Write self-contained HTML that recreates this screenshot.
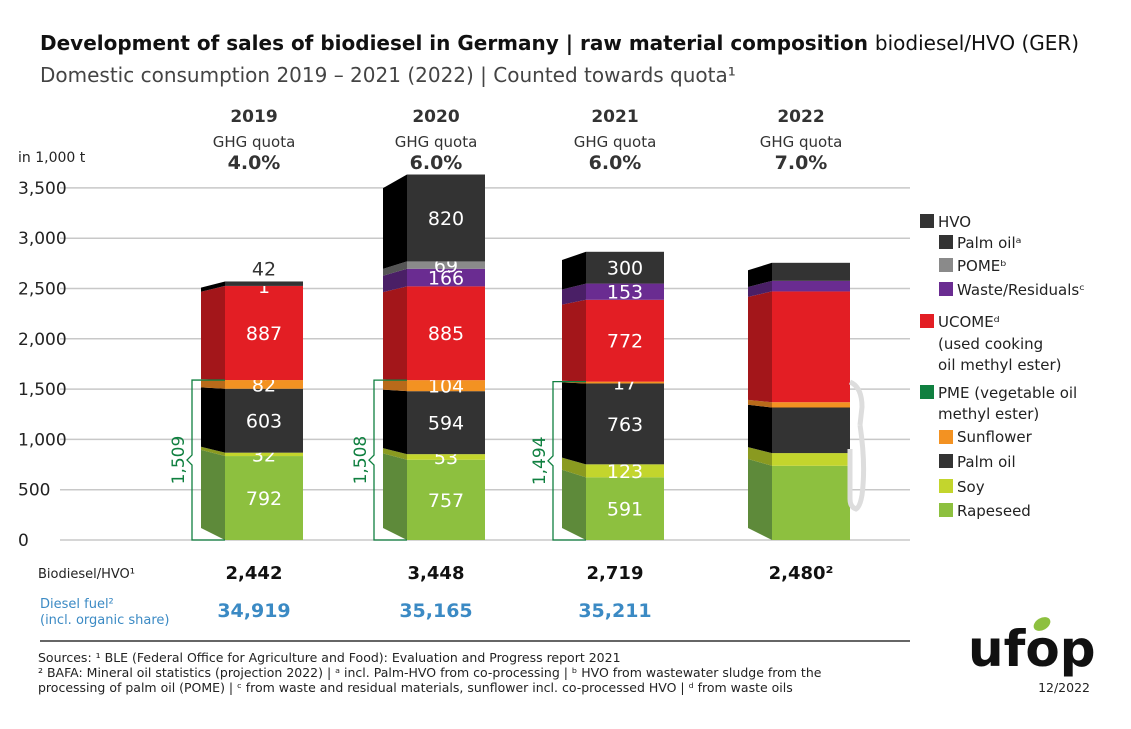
<!DOCTYPE html>
<html><head><meta charset="utf-8"><style>
body{margin:0;background:#fff;font-family:"Liberation Sans",sans-serif}
svg text{font-family:"DejaVu Sans","Liberation Sans",sans-serif}
</style></head><body>
<svg id="c" width="1131" height="724" viewBox="0 0 1131 724">
<text x="40" y="50" font-size="20" font-weight="bold" fill="#111">Development of sales of biodiesel in Germany | raw material composition <tspan font-weight="normal">biodiesel/HVO (GER)</tspan></text>
<text x="40" y="82" font-size="20" fill="#444">Domestic consumption 2019 – 2021 (2022) | Counted towards quota¹</text>
<text x="18" y="162" font-size="14" fill="#222">in 1,000 t</text>
<g id="grid"></g><g id="bars"></g>
<g font-size="15" fill="#222">
<rect x="920" y="214" width="14" height="14" fill="#333"/><text x="938" y="227">HVO</text>
<rect x="939" y="235" width="14" height="14" fill="#333"/><text x="957" y="248">Palm oilᵃ</text>
<rect x="939" y="258" width="14" height="14" fill="#8a8a8a"/><text x="957" y="271">POMEᵇ</text>
<rect x="939" y="282" width="14" height="14" fill="#6a2c91"/><text x="957" y="295">Waste/Residualsᶜ</text>
<rect x="920" y="314" width="14" height="14" fill="#e31e24"/><text x="938" y="327">UCOMEᵈ</text>
<text x="938" y="349">(used cooking</text><text x="938" y="370">oil methyl ester)</text>
<rect x="920" y="385" width="14" height="14" fill="#108040"/><text x="938" y="398">PME (vegetable oil</text>
<text x="938" y="419">methyl ester)</text>
<rect x="939" y="430" width="14" height="14" fill="#f39222"/><text x="957" y="442">Sunflower</text>
<rect x="939" y="454" width="14" height="14" fill="#333"/><text x="957" y="467">Palm oil</text>
<rect x="939" y="479" width="14" height="14" fill="#c3d52d"/><text x="957" y="492">Soy</text>
<rect x="939" y="503" width="14" height="14" fill="#8dc03f"/><text x="957" y="516">Rapeseed</text>
</g>
<text x="38" y="578" font-size="13" fill="#222">Biodiesel/HVO¹</text>
<text x="40" y="608" font-size="13" fill="#3b8ac4">Diesel fuel²</text>
<text x="40" y="624" font-size="13" fill="#3b8ac4">(incl. organic share)</text>
<line x1="40" y1="641" x2="910" y2="641" stroke="#333" stroke-width="1.5"/>
<g font-size="12.5" fill="#222">
<text x="38" y="662">Sources: ¹ BLE (Federal Office for Agriculture and Food): Evaluation and Progress report 2021</text>
<text x="38" y="677">² BAFA: Mineral oil statistics (projection 2022)  | ᵃ incl. Palm-HVO from co-processing | ᵇ HVO from wastewater sludge from the</text>
<text x="38" y="692">processing of palm oil (POME) | ᶜ from waste and residual materials, sunflower incl. co-processed HVO | ᵈ from waste oils</text>
</g>
<text x="1090" y="692" font-size="12.5" text-anchor="end" fill="#222">12/2022</text>
<g>
<text x="968" y="666" font-size="50" font-weight="bold" fill="#111" font-family="Liberation Sans">ufop</text>
<ellipse cx="1042" cy="624" rx="9" ry="6" fill="#8dc03f" transform="rotate(-30 1042 624)"/>
</g>
</svg>
<script>
const years=['2019','2020','2021','2022'];
const quotas=['4.0%','6.0%','6.0%','7.0%'];
const totals=['2,442','3,448','2,719','2,480²'];
const diesel=['34,919','35,165','35,211',''];
const pmeTotals=['1,509','1,508','1,494',''];
const rapeseed=[792,757,591,700];
const soy=[32,53,123,120];
const palmPME=[603,594,763,430];
const sunflower=[82,104,17,50];
const ucome=[887,885,772,1045];
const waste=[1,166,153,100];
const pome=[0,69,0,0];
const hvoPalm=[42,820,300,170];
const showLabels=[true,true,true,false];
const yTicks=[0,500,1000,1500,2000,2500,3000,3500];
const yTickLabels=['0','500','1,000','1,500','2,000','2,500','3,000','3,500'];

const NS='http://www.w3.org/2000/svg';
const y0=540,k=0.1006,kb=0.106;
const Y=v=>y0-v*k;
const YB=v=>y0-v*kb;
const xs=[225,407,586,772],bw=78,sw=24;
function mk(t,a,p){const e=document.createElementNS(NS,t);for(const n in a)e.setAttribute(n,a[n]);p.appendChild(e);return e;}
const grid=document.getElementById('grid'),bars=document.getElementById('bars');
yTicks.forEach((t,i)=>{
 const l=mk('line',{x1:60,x2:910,y1:Y(t),y2:Y(t),stroke:'#c8c8c8','stroke-width':1.5},grid);
 
 
 const tx=mk('text',{x:18,y:Y(t)+6,'font-size':17,fill:'#222'},grid);tx.textContent=yTickLabels[i];
 
 
});
const series=[
 {d:rapeseed,c:'#8dc03f',s:'#5e8a3a',n:'rapeseed'},
 {d:soy,c:'#c3d52d',s:'#8a9a20',n:'soy'},
 {d:palmPME,c:'#333',s:'#000',n:'palm-oil'},
 {d:sunflower,c:'#f39222',s:'#b86a1a',n:'sunflower'},
 {d:ucome,c:'#e31e24',s:'#a3161a',n:'ucome'},
 {d:waste,c:'#6a2c91',s:'#4a1f66',n:'waste-residuals'},
 {d:pome,c:'#8a8a8a',s:'#555',n:'pome'},
 {d:hvoPalm,c:'#333',s:'#000',n:'hvo-palm-oil'}];
const sideY=y=>528-(y0-y)*0.93;
years.forEach((yr,i)=>{
 const x=xs[i];
 const g=mk('g',{},bars);
 
 
 let cum=0;
 series.forEach((s,j)=>{
  const v=s.d[i];if(v<=0)return;
  const ya=YB(cum),yb=YB(cum+v);cum+=v;
  const side=mk('polygon',{points:`${x-sw},${sideY(ya)} ${x},${ya} ${x},${yb} ${x-sw},${sideY(yb)}`,fill:s.s},g);
  
  
  const r=mk('rect',{x:x,y:yb,width:bw,height:ya-yb,fill:s.c},g);
  
  
  if(showLabels[i]){
   const top=(j===7&&i===0);
   const t=mk('text',{x:x+bw/2,y:top?yb-6:(ya+yb)/2+7,'font-size':19,fill:top?'#333':'#fff','text-anchor':'middle'},g);
   t.textContent=v;
   
   
  }
 });
 const cx=x+bw/2-10;
 const hd=[[yr,122,17,'bold'],['GHG quota',147,15,'normal'],[quotas[i],169,19,'bold']];
 hd.forEach(h=>{const t=mk('text',{x:cx,y:h[1],'font-size':h[2],'font-weight':h[3],fill:'#333','text-anchor':'middle'},g);t.textContent=h[0];
  
  });
 const tt=mk('text',{x:cx,y:579,'font-size':18,'font-weight':'bold',fill:'#111','text-anchor':'middle'},g);tt.textContent=totals[i];
 
 
 if(diesel[i]){const d=mk('text',{x:cx,y:617,'font-size':19,'font-weight':'bold',fill:'#3b8ac4','text-anchor':'middle'},g);d.textContent=diesel[i];
  
  }
 if(pmeTotals[i]){
  const pm=rapeseed[i]+soy[i]+palmPME[i]+sunflower[i];
  const bx=x-33,yt=YB(pm),mid=(yt+y0)/2;
  const b=mk('path',{d:`M${x},${yt} H${bx} V${mid-5} l-5,5 l5,5 V${y0} H${x}`,fill:'none',stroke:'#108040','stroke-width':1.3},g);
  
  
  const t=mk('text',{x:bx-8,y:mid,'font-size':17,fill:'#108040','text-anchor':'middle',transform:`rotate(-90 ${bx-8} ${mid})`},g);t.textContent=pmeTotals[i];
  
  
 }
});
const nz=mk('path',{d:'M850,382 q12,5 12,25 l-2,18 M860,425 q6,40 2,70 q-2,12 -6,14 q-6,-2 -6,-10 l0,-50',fill:'none',stroke:'#ddd','stroke-width':5},bars);


</script>
</body></html>
